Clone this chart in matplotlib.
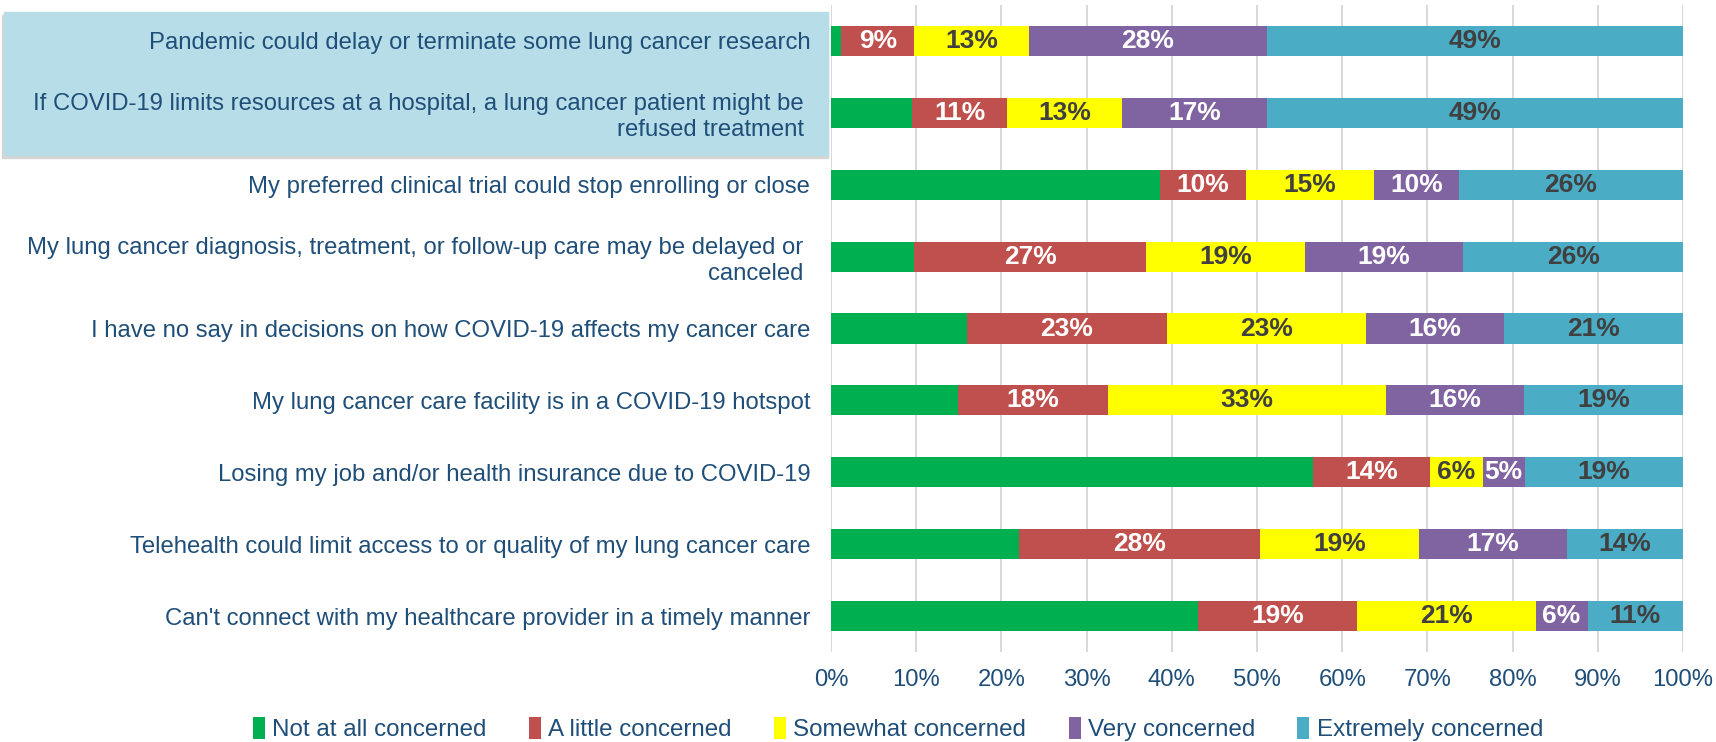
import matplotlib.pyplot as plt
import matplotlib.patches as mpatches
import numpy as np

plt.rcParams['font.family'] = ['Liberation Sans', 'DejaVu Sans']

categories = [
    "Pandemic could delay or terminate some lung cancer research",
    "If COVID-19 limits resources at a hospital, a lung cancer patient might be \nrefused treatment ",
    "My preferred clinical trial could stop enrolling or close",
    "My lung cancer diagnosis, treatment, or follow-up care may be delayed or \ncanceled ",
    "I have no say in decisions on how COVID-19 affects my cancer care",
    "My lung cancer care facility is in a COVID-19 hotspot",
    "Losing my job and/or health insurance due to COVID-19",
    "Telehealth could limit access to or quality of my lung cancer care",
    "Can't connect with my healthcare provider in a timely manner",
]
series_names = ["Not at all concerned", "A little concerned", "Somewhat concerned",
                "Very concerned", "Extremely concerned"]

# percentages (labels show them rounded)
not_at_all = [1.2, 9.5, 38.6, 9.8, 16.0, 14.9, 56.6, 22.1, 43.1]
a_little = [8.6, 11.2, 10.1, 27.2, 23.4, 17.6, 13.7, 28.3, 18.6]
somewhat = [13.4, 13.4, 15.0, 18.6, 23.4, 32.6, 6.2, 18.6, 21.0]
very = [28.0, 17.1, 10.0, 18.6, 16.2, 16.2, 4.9, 17.4, 6.1]
extremely = [48.8, 48.8, 26.3, 25.8, 21.0, 18.7, 18.6, 13.6, 11.2]

colors = ["#00B050", "#C0504D", "#FFFF00", "#8064A2", "#4BACC6"]
label_colors = [None, "white", "#404040", "white", "#404040"]
text_blue = "#1F4E79"

W, H = 1716, 742
fig = plt.figure(figsize=(W / 100, H / 100), dpi=100)
ax = fig.add_axes([831 / W, 1 - 652 / H, (1683 - 831) / W, (652 - 5) / H])
ax.set_facecolor("none")

# highlight box behind the first two labels
fig.patches.append(mpatches.Rectangle((2 / W, 1 - 158 / H), 826 / W, 143 / H,
                                      transform=fig.transFigure, color="#D6D6D6", zorder=-2))
fig.patches.append(mpatches.Rectangle((4 / W, 1 - 155 / H), 824 / W, 143 / H,
                                      transform=fig.transFigure, color="#B7DDE8", zorder=-1))

y = np.arange(len(categories))
left = np.zeros(len(categories))
for name, vals, c, lc in zip(series_names, [not_at_all, a_little, somewhat, very, extremely],
                              colors, label_colors):
    vals = np.array(vals, dtype=float)
    ax.barh(y, vals, left=left, height=0.42, color=c, label=name, zorder=3)
    if lc is not None:
        for yi, l, v in zip(y, left, vals):
            ax.text(l + v / 2, yi, "{:.0f}%".format(v), ha="center", va="center",
                    color=lc, fontsize=19, fontweight="bold", zorder=4)
    left += vals

ax.set_xlim(0, 100)
ax.set_ylim(len(categories) - 0.5, -0.5)
ax.set_xticks(np.arange(0, 101, 10))
ax.set_xticklabels(["{}%".format(t) for t in range(0, 101, 10)])
ax.set_yticks(y)
ax.set_yticklabels(categories, fontsize=17.2, color=text_blue, linespacing=1.2)
ax.tick_params(axis="x", colors=text_blue, labelsize=17.2, length=0, pad=12)
ax.tick_params(axis="y", length=0, pad=15)
ax.xaxis.grid(True, color="#D9D9D9", linewidth=1.5, zorder=0)
ax.set_axisbelow(True)
for s in ax.spines.values():
    s.set_visible(False)

fig.legend(loc="center", bbox_to_anchor=(898 / W, 1 - 729 / H), ncol=5, frameon=False,
           fontsize=17.4, labelcolor=text_blue, handlelength=0.5, handleheight=1.0,
           handletextpad=0.3, columnspacing=1.75)

plt.savefig("out.png", dpi=100)
